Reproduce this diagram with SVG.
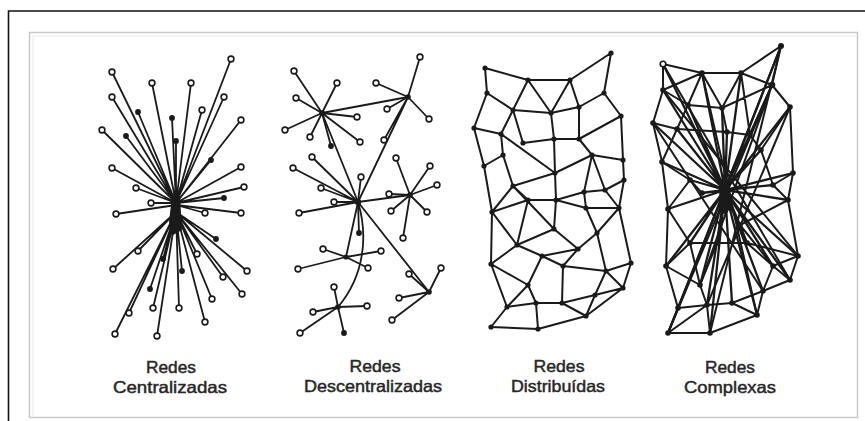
<svg xmlns="http://www.w3.org/2000/svg" width="865" height="421" viewBox="0 0 865 421">
<style>
.e{fill:none;stroke:#1a1a1a;stroke-width:1.8;stroke-linecap:round}
.x{fill:none;stroke:#1a1a1a;stroke-width:2;stroke-linecap:round}
.s{fill:none;stroke:#1a1a1a;stroke-width:2.3;stroke-linecap:round}
.o{fill:#fff;stroke:#1a1a1a;stroke-width:1.6}
.f{fill:#1a1a1a}
.t{font-family:"Liberation Sans",Arial,sans-serif;font-size:16.5px;fill:#262626;stroke:#262626;stroke-width:0.45;text-anchor:middle}
</style>
<rect x="0" y="0" width="865" height="421" fill="#fff"/>
<g id="frame">
<path d="M8.5 421V11H865" fill="none" stroke="#111" stroke-width="1.6"/>
<rect x="29.5" y="32.5" width="828" height="385" fill="#fff" stroke="#c9c9c9" stroke-width="1.5"/>
<path d="M33 416V36H856" fill="none" stroke="#ececec" stroke-width="1.2"/>
</g>
<g id="connectors">
<g id="edges-centralizadas">
<path class="e" d="M176 203L231 59M176 203L112 72M176 203L152 83M176 203L191 83M176 203L112 97M176 203L224 97M176 203L138 112M176 203L202 110M176 203L172 118M176 203L241 120M176 203L102 130M176 203L126 136M176 203L176 141M176 203L211 160M176 203L112 168M176 203L241 167M176 203L244 187M176 203L136 188M176 203L151 203M176 203L224 198M176 205L116 214M176 205L241 213M176 205L205 213"/>
<path class="e" d="M176 212L216 239M176 212L138 251M176 212L113 269M176 212L163 259M176 212L182 271M176 212L197 254M176 212L247 271M176 212L223 277M176 212L150 289M176 212L212 299M176 212L242 294M176 212L153 308M176 212L179 308M176 212L129 313M176 212L205 322M176 212L115 334M176 212L157 336"/>
<path class="f" d="M172 196L180 196L182 230L173 235L169 222Z"/>
</g>
<g id="edges-descentralizadas">
<path class="e" d="M322 113L408 97M322 113L358 202M408 97L358 202M408 97L384 140M358 202L410 195M358 202L346 257M358 202L429 292M358 202C368 235 365 275 338 307"/>
<path class="e" d="M322 113L294 71M322 113L337 83M322 113L296 98M322 113L357 117M322 113L285 130M322 113L310 137M322 113L331 146M322 113L360 142"/>
<path class="e" d="M408 97L420 57M408 97L376 83M408 97L387 109M408 97L429 119"/>
<path class="e" d="M358 202L312 157M358 202L293 168M358 202L361 177M358 202L321 188M358 202L334 202M358 202L299 213M358 202L359 233"/>
<path class="e" d="M410 195L396 158M410 195L430 166M410 195L437 185M410 195L389 194M410 195L391 211M410 195L427 212M410 195L403 238"/>
<path class="e" d="M346 257L323 249M346 257L381 251M346 257L298 269M346 257L368 268"/>
<path class="e" d="M338 307L334 287M338 307L367 306M338 307L313 312M338 307L300 333M338 307L344 333"/>
<path class="e" d="M429 292L441 268M429 292L409 274M429 292L399 298M429 292L392 320"/>
</g>
<g id="edges-distribuidas">
<path class="x" d="M485 68L528 80M528 80L570 80M570 80L611 53M611 53L604 93M485 68L487 93M487 93L474 128M487 93L513 110M528 80L513 110M528 80L551 113M570 80L551 113M570 80L579 107M579 107L604 93M604 93L621 116M513 110L551 113M551 113L579 107M513 110L501 134M513 110L523 143M474 128L501 134M551 113L554 139M579 107L579 139M621 116L579 139M621 116L623 160M501 134L503 155M523 143L554 139M554 139L579 139M501 134L555 173M554 139L555 173M579 139L592 155M592 155L555 173M592 155L623 160M592 155L584 192M592 155L605 190M474 128L484 166M503 155L484 166M503 155L513 186M484 166L492 212M555 173L513 186M623 160L624 180M624 180L605 190M584 192L605 190M513 186L492 212M513 186L528 200M528 200L556 200M556 200L584 192M555 173L556 200M528 200L492 212M528 200L517 245M513 186L554 229M556 200L554 229M556 200L586 208M584 192L586 208M586 208L619 208M624 180L619 208M605 190L619 208"/>
<path class="x" d="M492 212L491 264M492 212L517 245M586 208L597 233M619 208L597 233M619 208L631 263M554 229L517 245M554 229L578 249M597 233L578 249M597 233L606 271M517 245L542 256M517 245L491 264M542 256L578 249M542 256L563 266M542 256L528 285M491 264L528 285M491 264L507 307M578 249L563 266M563 266L606 271M606 271L631 263M606 271L623 288M631 263L623 288M606 271L595 295M563 266L562 303M528 285L507 307M528 285L536 303M623 288L595 295M595 295L586 316M595 295L562 303M507 307L536 303M536 303L562 303M562 303L586 316M507 307L491 327M536 303L538 329M491 327L538 329M538 329L586 316M623 288L586 316"/>
</g>
<g id="edges-complexas">
<path class="x" d="M663 64L702 73M702 73L741 73M741 73L772 85M781 46L772 85M781 46L741 73M663 64L663 90M663 90L653 123M653 123L662 162M662 162L668 209M668 209L666 266M666 266L678 308M678 308L668 333M668 333L710 333M710 333L757 315M757 315L763 291M763 291L790 280M790 280L798 256M798 256L788 200M788 200L793 173M793 173L790 107M790 107L772 85M702 73L663 90M702 73L688 105M702 73L722 108M741 73L722 108M741 73L750 135M663 90L688 105M688 105L722 108M722 108L772 85M688 105L677 129M653 123L677 129M677 129L727 132M722 108L727 132M727 132L750 135M750 135L772 85M750 135L761 150M761 150L790 107M761 150L773 185M773 185L793 173M773 185L788 200M662 162L690 180M690 180L702 193M662 162L677 129M668 209L690 243M690 243L717 243M717 243L747 243M747 243L773 266M773 266L798 256M740 225L747 243M666 266L700 285M700 285L707 305M700 285L690 243M707 305L732 303M732 303L757 315M773 266L763 291M773 266L790 280M678 308L707 305M668 333L707 305M732 303L763 291M717 243L700 285M740 225L773 266M668 209L690 180M788 200L740 225M747 243L798 256M666 266L690 243M710 333L707 305"/>
<path class="x" d="M781 46L678 308M772 85L668 333M790 107L707 305M663 64L790 280M663 90L798 256M653 123L763 291M772 85L700 285M781 46L710 333M702 73L757 315"/>
<path class="s" d="M725 190L663 64M725 190L702 73M725 190L741 73M725 190L781 46M725 190L772 85M725 190L663 90M725 190L688 105M725 190L722 108M725 190L790 107M725 190L653 123M725 190L677 129M725 190L727 132M725 190L750 135M725 190L761 150M725 190L662 162M725 190L793 173M725 190L690 180M725 190L773 185M725 190L702 193M725 190L788 200M725 190L668 209M725 190L740 225M725 190L690 243M725 190L717 243M725 190L747 243M725 190L798 256M725 190L666 266M725 190L773 266M725 190L700 285M725 190L790 280M725 190L763 291M725 190L678 308M725 190L707 305M725 190L732 303M725 190L757 315M725 190L668 333M725 190L710 333"/>
<ellipse class="f" cx="725" cy="198" rx="6" ry="16"/>
</g>
</g>
<g id="nodes-centralizadas">
<g id="c1"><circle class="o" cx="231" cy="59" r="2.9"/></g>
<g id="c2"><circle class="o" cx="112" cy="72" r="2.9"/></g>
<g id="c3"><circle class="o" cx="152" cy="83" r="2.9"/></g>
<g id="c4"><circle class="o" cx="191" cy="83" r="2.9"/></g>
<g id="c5"><circle class="o" cx="112" cy="97" r="2.9"/></g>
<g id="c6"><circle class="o" cx="224" cy="97" r="2.9"/></g>
<g id="c7"><circle class="f" cx="138" cy="112" r="2.9"/></g>
<g id="c8"><circle class="o" cx="202" cy="110" r="2.9"/></g>
<g id="c9"><circle class="f" cx="172" cy="118" r="2.9"/></g>
<g id="c10"><circle class="o" cx="241" cy="120" r="2.9"/></g>
<g id="c11"><circle class="o" cx="102" cy="130" r="2.9"/></g>
<g id="c12"><circle class="f" cx="126" cy="136" r="2.9"/></g>
<g id="c13"><circle class="f" cx="176" cy="141" r="2.9"/></g>
<g id="c14"><circle class="f" cx="211" cy="160" r="2.9"/></g>
<g id="c15"><circle class="o" cx="112" cy="168" r="2.9"/></g>
<g id="c16"><circle class="o" cx="241" cy="167" r="2.9"/></g>
<g id="c17"><circle class="o" cx="244" cy="187" r="2.9"/></g>
<g id="c18"><circle class="o" cx="136" cy="188" r="2.9"/></g>
<g id="c19"><circle class="o" cx="151" cy="203" r="2.9"/></g>
<g id="c20"><circle class="f" cx="224" cy="198" r="2.9"/></g>
<g id="c21"><circle class="o" cx="116" cy="214" r="2.9"/></g>
<g id="c22"><circle class="o" cx="241" cy="213" r="2.9"/></g>
<g id="c23"><circle class="o" cx="205" cy="213" r="2.9"/></g>
<g id="c24"><circle class="f" cx="216" cy="239" r="2.9"/></g>
<g id="c25"><circle class="o" cx="138" cy="251" r="2.9"/></g>
<g id="c26"><circle class="o" cx="113" cy="269" r="2.9"/></g>
<g id="c27"><circle class="f" cx="163" cy="259" r="2.9"/></g>
<g id="c28"><circle class="f" cx="182" cy="271" r="2.9"/></g>
<g id="c29"><circle class="o" cx="197" cy="254" r="2.9"/></g>
<g id="c30"><circle class="o" cx="247" cy="271" r="2.9"/></g>
<g id="c31"><circle class="o" cx="223" cy="277" r="2.9"/></g>
<g id="c32"><circle class="f" cx="150" cy="289" r="2.9"/></g>
<g id="c33"><circle class="o" cx="212" cy="299" r="2.9"/></g>
<g id="c34"><circle class="o" cx="242" cy="294" r="2.9"/></g>
<g id="c35"><circle class="o" cx="153" cy="308" r="2.9"/></g>
<g id="c36"><circle class="o" cx="179" cy="308" r="2.9"/></g>
<g id="c37"><circle class="o" cx="129" cy="313" r="2.9"/></g>
<g id="c38"><circle class="o" cx="205" cy="322" r="2.9"/></g>
<g id="c39"><circle class="o" cx="115" cy="334" r="2.9"/></g>
<g id="c40"><circle class="o" cx="157" cy="336" r="2.9"/></g>
</g>
<g id="nodes-descentralizadas">
<g id="d-h1"><circle class="f" cx="322" cy="113" r="2.8"/></g>
<g id="d-h2"><circle class="f" cx="408" cy="97" r="2.8"/></g>
<g id="d-h3"><circle class="f" cx="358" cy="202" r="3.2"/></g>
<g id="d-h4"><circle class="f" cx="410" cy="195" r="2.8"/></g>
<g id="d-h5"><circle class="f" cx="346" cy="257" r="2.6"/></g>
<g id="d-h6"><circle class="f" cx="338" cy="307" r="2.8"/></g>
<g id="d-h7"><circle class="f" cx="429" cy="292" r="2.8"/></g>
<g id="d1"><circle class="o" cx="294" cy="71" r="2.9"/></g>
<g id="d2"><circle class="o" cx="337" cy="83" r="2.9"/></g>
<g id="d3"><circle class="o" cx="296" cy="98" r="2.9"/></g>
<g id="d4"><circle class="o" cx="357" cy="117" r="2.9"/></g>
<g id="d5"><circle class="o" cx="285" cy="130" r="2.9"/></g>
<g id="d6"><circle class="o" cx="310" cy="137" r="2.9"/></g>
<g id="d7"><circle class="f" cx="331" cy="146" r="2.9"/></g>
<g id="d8"><circle class="o" cx="360" cy="142" r="2.9"/></g>
<g id="d9"><circle class="o" cx="420" cy="57" r="2.9"/></g>
<g id="d10"><circle class="o" cx="376" cy="83" r="2.9"/></g>
<g id="d11"><circle class="o" cx="387" cy="109" r="2.9"/></g>
<g id="d12"><circle class="o" cx="429" cy="119" r="2.9"/></g>
<g id="d13"><circle class="o" cx="384" cy="140" r="2.9"/></g>
<g id="d14"><circle class="o" cx="312" cy="157" r="2.9"/></g>
<g id="d15"><circle class="o" cx="293" cy="168" r="2.9"/></g>
<g id="d16"><circle class="o" cx="361" cy="177" r="2.9"/></g>
<g id="d17"><circle class="o" cx="321" cy="188" r="2.9"/></g>
<g id="d18"><circle class="o" cx="334" cy="202" r="2.9"/></g>
<g id="d19"><circle class="o" cx="299" cy="213" r="2.9"/></g>
<g id="d20"><circle class="f" cx="359" cy="233" r="2.9"/></g>
<g id="d21"><circle class="o" cx="396" cy="158" r="2.9"/></g>
<g id="d22"><circle class="o" cx="430" cy="166" r="2.9"/></g>
<g id="d23"><circle class="o" cx="437" cy="185" r="2.9"/></g>
<g id="d24"><circle class="o" cx="389" cy="194" r="2.9"/></g>
<g id="d25"><circle class="o" cx="391" cy="211" r="2.9"/></g>
<g id="d26"><circle class="o" cx="427" cy="212" r="2.9"/></g>
<g id="d27"><circle class="o" cx="403" cy="238" r="2.9"/></g>
<g id="d28"><circle class="o" cx="323" cy="249" r="2.9"/></g>
<g id="d29"><circle class="o" cx="381" cy="251" r="2.9"/></g>
<g id="d30"><circle class="o" cx="298" cy="269" r="2.9"/></g>
<g id="d31"><circle class="o" cx="368" cy="268" r="2.9"/></g>
<g id="d32"><circle class="o" cx="334" cy="287" r="2.9"/></g>
<g id="d33"><circle class="o" cx="367" cy="306" r="2.9"/></g>
<g id="d34"><circle class="o" cx="313" cy="312" r="2.9"/></g>
<g id="d35"><circle class="o" cx="300" cy="333" r="2.9"/></g>
<g id="d36"><circle class="f" cx="344" cy="333" r="2.9"/></g>
<g id="d37"><circle class="o" cx="441" cy="268" r="2.9"/></g>
<g id="d38"><circle class="o" cx="409" cy="274" r="2.9"/></g>
<g id="d39"><circle class="o" cx="399" cy="298" r="2.9"/></g>
<g id="d40"><circle class="o" cx="392" cy="320" r="2.9"/></g>
</g>
<g id="nodes-distribuidas">
<g id="m1"><circle class="f" cx="485" cy="68" r="2.6"/></g>
<g id="m2"><circle class="f" cx="528" cy="80" r="2.6"/></g>
<g id="m3"><circle class="f" cx="570" cy="80" r="2.6"/></g>
<g id="m4"><circle class="f" cx="611" cy="53" r="2.6"/></g>
<g id="m5"><circle class="f" cx="487" cy="93" r="2.6"/></g>
<g id="m6"><circle class="f" cx="513" cy="110" r="2.6"/></g>
<g id="m7"><circle class="f" cx="551" cy="113" r="2.6"/></g>
<g id="m8"><circle class="f" cx="579" cy="107" r="2.6"/></g>
<g id="m9"><circle class="f" cx="604" cy="93" r="2.6"/></g>
<g id="m10"><circle class="f" cx="621" cy="116" r="2.6"/></g>
<g id="m11"><circle class="f" cx="474" cy="128" r="2.6"/></g>
<g id="m12"><circle class="f" cx="501" cy="134" r="2.6"/></g>
<g id="m13"><circle class="f" cx="523" cy="143" r="2.6"/></g>
<g id="m14"><circle class="f" cx="554" cy="139" r="2.6"/></g>
<g id="m15"><circle class="f" cx="579" cy="139" r="2.6"/></g>
<g id="m16"><circle class="f" cx="503" cy="155" r="2.6"/></g>
<g id="m17"><circle class="f" cx="592" cy="155" r="2.6"/></g>
<g id="m18"><circle class="f" cx="484" cy="166" r="2.6"/></g>
<g id="m19"><circle class="f" cx="623" cy="160" r="2.6"/></g>
<g id="m20"><circle class="f" cx="555" cy="173" r="2.6"/></g>
<g id="m21"><circle class="f" cx="624" cy="180" r="2.6"/></g>
<g id="m22"><circle class="f" cx="513" cy="186" r="2.6"/></g>
<g id="m23"><circle class="f" cx="584" cy="192" r="2.6"/></g>
<g id="m24"><circle class="f" cx="605" cy="190" r="2.6"/></g>
<g id="m25"><circle class="f" cx="528" cy="200" r="2.6"/></g>
<g id="m26"><circle class="f" cx="556" cy="200" r="2.6"/></g>
<g id="m27"><circle class="f" cx="492" cy="212" r="2.6"/></g>
<g id="m28"><circle class="f" cx="586" cy="208" r="2.6"/></g>
<g id="m29"><circle class="f" cx="619" cy="208" r="2.6"/></g>
<g id="m30"><circle class="f" cx="554" cy="229" r="2.6"/></g>
<g id="m31"><circle class="f" cx="597" cy="233" r="2.6"/></g>
<g id="m32"><circle class="f" cx="517" cy="245" r="2.6"/></g>
<g id="m33"><circle class="f" cx="578" cy="249" r="2.6"/></g>
<g id="m34"><circle class="f" cx="542" cy="256" r="2.6"/></g>
<g id="m35"><circle class="f" cx="491" cy="264" r="2.6"/></g>
<g id="m36"><circle class="f" cx="563" cy="266" r="2.6"/></g>
<g id="m37"><circle class="f" cx="606" cy="271" r="2.6"/></g>
<g id="m38"><circle class="f" cx="631" cy="263" r="2.6"/></g>
<g id="m39"><circle class="f" cx="528" cy="285" r="2.6"/></g>
<g id="m40"><circle class="f" cx="623" cy="288" r="2.6"/></g>
<g id="m41"><circle class="f" cx="595" cy="295" r="2.6"/></g>
<g id="m42"><circle class="f" cx="507" cy="307" r="2.6"/></g>
<g id="m43"><circle class="f" cx="536" cy="303" r="2.6"/></g>
<g id="m44"><circle class="f" cx="562" cy="303" r="2.6"/></g>
<g id="m45"><circle class="f" cx="586" cy="316" r="2.6"/></g>
<g id="m46"><circle class="f" cx="491" cy="327" r="2.6"/></g>
<g id="m47"><circle class="f" cx="538" cy="329" r="2.6"/></g>
</g>
<g id="nodes-complexas">
<g id="k1"><circle class="o" cx="663" cy="64" r="2.8"/></g>
<g id="k2"><circle class="f" cx="702" cy="73" r="2.8"/></g>
<g id="k3"><circle class="f" cx="741" cy="73" r="2.8"/></g>
<g id="k4"><circle class="f" cx="781" cy="46" r="3"/></g>
<g id="k5"><circle class="f" cx="772" cy="85" r="3.3"/></g>
<g id="k6"><circle class="f" cx="663" cy="90" r="2.8"/></g>
<g id="k7"><circle class="f" cx="688" cy="105" r="2.8"/></g>
<g id="k8"><circle class="f" cx="722" cy="108" r="2.8"/></g>
<g id="k9"><circle class="f" cx="790" cy="107" r="2.8"/></g>
<g id="k10"><circle class="f" cx="653" cy="123" r="2.8"/></g>
<g id="k11"><circle class="f" cx="677" cy="129" r="2.8"/></g>
<g id="k12"><circle class="f" cx="727" cy="132" r="2.8"/></g>
<g id="k13"><circle class="f" cx="750" cy="135" r="2.8"/></g>
<g id="k14"><circle class="f" cx="761" cy="150" r="2.8"/></g>
<g id="k15"><circle class="f" cx="662" cy="162" r="2.8"/></g>
<g id="k16"><circle class="f" cx="793" cy="173" r="2.8"/></g>
<g id="k17"><circle class="f" cx="690" cy="180" r="2.8"/></g>
<g id="k18"><circle class="f" cx="773" cy="185" r="2.8"/></g>
<g id="k19"><circle class="f" cx="702" cy="193" r="2.8"/></g>
<g id="k20"><circle class="f" cx="788" cy="200" r="2.8"/></g>
<g id="k21"><circle class="f" cx="668" cy="209" r="2.8"/></g>
<g id="k22"><circle class="f" cx="740" cy="225" r="2.8"/></g>
<g id="k23"><circle class="f" cx="690" cy="243" r="2.8"/></g>
<g id="k24"><circle class="f" cx="717" cy="243" r="2.8"/></g>
<g id="k25"><circle class="f" cx="747" cy="243" r="2.8"/></g>
<g id="k26"><circle class="f" cx="798" cy="256" r="2.8"/></g>
<g id="k27"><circle class="f" cx="666" cy="266" r="2.8"/></g>
<g id="k28"><circle class="f" cx="773" cy="266" r="2.8"/></g>
<g id="k29"><circle class="f" cx="700" cy="285" r="2.8"/></g>
<g id="k30"><circle class="f" cx="790" cy="280" r="2.8"/></g>
<g id="k31"><circle class="f" cx="763" cy="291" r="2.8"/></g>
<g id="k32"><circle class="f" cx="678" cy="308" r="2.8"/></g>
<g id="k33"><circle class="f" cx="707" cy="305" r="2.8"/></g>
<g id="k34"><circle class="f" cx="732" cy="303" r="2.8"/></g>
<g id="k35"><circle class="f" cx="757" cy="315" r="2.8"/></g>
<g id="k36"><circle class="f" cx="668" cy="333" r="2.8"/></g>
<g id="k37"><circle class="f" cx="710" cy="333" r="2.8"/></g>
</g>
<g id="labels">
<text class="t" x="171" y="373" textLength="50" lengthAdjust="spacingAndGlyphs">Redes</text>
<text class="t" x="170" y="393" textLength="114" lengthAdjust="spacingAndGlyphs">Centralizadas</text>
<text class="t" x="375" y="372" textLength="51" lengthAdjust="spacingAndGlyphs">Redes</text>
<text class="t" x="373" y="391.5" textLength="138" lengthAdjust="spacingAndGlyphs">Descentralizadas</text>
<text class="t" x="559" y="372" textLength="51" lengthAdjust="spacingAndGlyphs">Redes</text>
<text class="t" x="558" y="392" textLength="94" lengthAdjust="spacingAndGlyphs">Distribuídas</text>
<text class="t" x="730" y="373" textLength="50" lengthAdjust="spacingAndGlyphs">Redes</text>
<text class="t" x="730" y="393" textLength="92" lengthAdjust="spacingAndGlyphs">Complexas</text>
</g>
</svg>
